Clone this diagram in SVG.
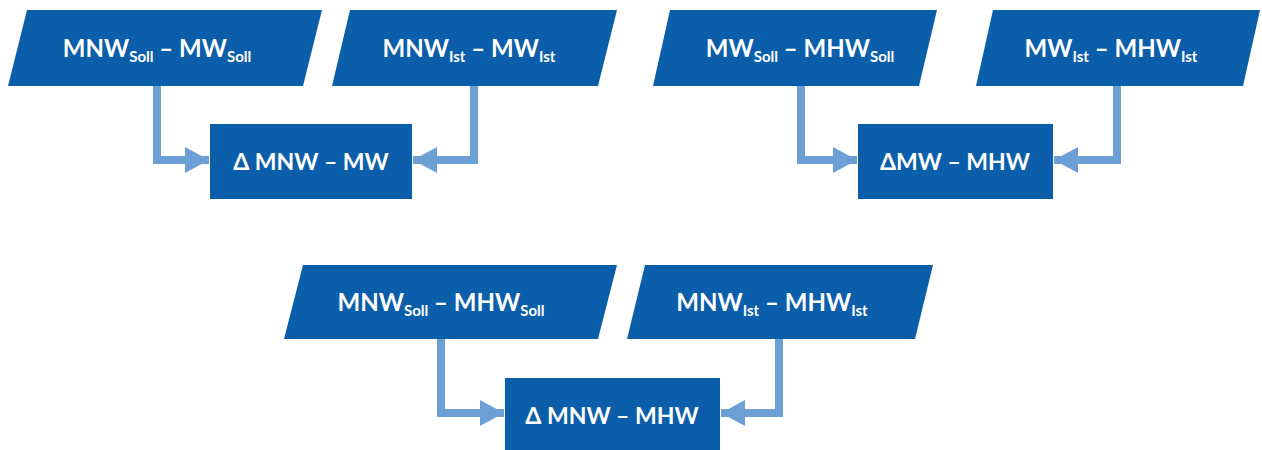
<svg xmlns="http://www.w3.org/2000/svg" width="1262" height="450" viewBox="0 0 1262 450">
  <defs>
    <style>
      .box { fill: #0b5eaa; }
      .lbl { fill: #ffffff; font-family: Lato, "Open Sans", "Liberation Sans", sans-serif; font-weight: bold; font-size: 24px; text-anchor: middle; }
      .res { font-size: 23px; }
      .sub { font-size: 15px; }
      .wire { fill: none; stroke: #6c9fd6; stroke-width: 8; }
    </style>
    <marker id="head" markerUnits="userSpaceOnUse" markerWidth="26" markerHeight="26" refX="24" refY="13" orient="auto">
      <path d="M0,0 L24,13 L0,26 Z" fill="#6c9fd6"/>
    </marker>
  </defs>

  <g id="connectors">
    <path class="wire" d="M157,86 V160 H209" marker-end="url(#head)"/>
    <path class="wire" d="M474,86 V160 H413" marker-end="url(#head)"/>
    <path class="wire" d="M801,86 V160 H857" marker-end="url(#head)"/>
    <path class="wire" d="M1117,86 V160 H1054" marker-end="url(#head)"/>
    <path class="wire" d="M441,339 V413 H504" marker-end="url(#head)"/>
    <path class="wire" d="M779,339 V413 H721" marker-end="url(#head)"/>
  </g>

  <g id="mnw-mw-soll">
    <polygon class="box" points="27,10 322,10 303,86 8,86"/>
    <text class="lbl" x="157" y="57">MNW<tspan class="sub" dy="5">Soll</tspan><tspan dy="-5"> – MW</tspan><tspan class="sub" dy="5">Soll</tspan></text>
  </g>
  <g id="mnw-mw-ist">
    <polygon class="box" points="350,10 617,10 598,86 332,86"/>
    <text class="lbl" x="469" y="57">MNW<tspan class="sub" dy="5">Ist</tspan><tspan dy="-5"> – MW</tspan><tspan class="sub" dy="5">Ist</tspan></text>
  </g>
  <g id="mw-mhw-soll">
    <polygon class="box" points="670,10 937,10 919,86 653,86"/>
    <text class="lbl" x="800" y="57">MW<tspan class="sub" dy="5">Soll</tspan><tspan dy="-5"> – MHW</tspan><tspan class="sub" dy="5">Soll</tspan></text>
  </g>
  <g id="mw-mhw-ist">
    <polygon class="box" points="993,10 1260,10 1243,86 976,86"/>
    <text class="lbl" x="1111" y="57">MW<tspan class="sub" dy="5">Ist</tspan><tspan dy="-5"> – MHW</tspan><tspan class="sub" dy="5">Ist</tspan></text>
  </g>
  <g id="mnw-mhw-soll">
    <polygon class="box" points="303,265 617,265 598,339 284,339"/>
    <text class="lbl" x="441" y="311">MNW<tspan class="sub" dy="5">Soll</tspan><tspan dy="-5"> – MHW</tspan><tspan class="sub" dy="5">Soll</tspan></text>
  </g>
  <g id="mnw-mhw-ist">
    <polygon class="box" points="645,265 933,265 915,339 627,339"/>
    <text class="lbl" x="772" y="311">MNW<tspan class="sub" dy="5">Ist</tspan><tspan dy="-5"> – MHW</tspan><tspan class="sub" dy="5">Ist</tspan></text>
  </g>

  <g id="delta-mnw-mw">
    <rect class="box" x="210" y="124" width="202" height="75"/>
    <text class="lbl res" x="311" y="170">Δ MNW – MW</text>
  </g>
  <g id="delta-mw-mhw">
    <rect class="box" x="858" y="124" width="195" height="75"/>
    <text class="lbl res" x="955" y="170">ΔMW – MHW</text>
  </g>
  <g id="delta-mnw-mhw">
    <rect class="box" x="505" y="378" width="215" height="75"/>
    <text class="lbl res" x="612" y="424">Δ MNW – MHW</text>
  </g>
</svg>
